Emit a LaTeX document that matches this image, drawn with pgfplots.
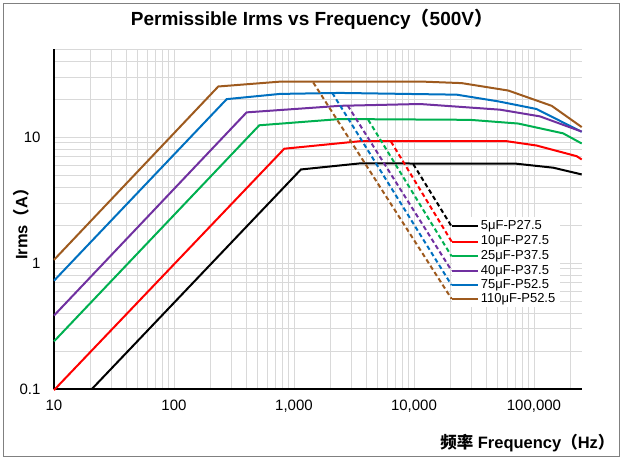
\documentclass[border=0pt]{standalone}
\usepackage{pgfplots}
\pgfplotsset{compat=1.18}
\usepackage{fontspec}
\setmainfont{Liberation Sans}
\newfontfamily\cjk{Noto Sans CJK SC}

\definecolor{cbrown}{HTML}{9E5A1E}
\definecolor{cblue}{HTML}{0070C0}
\definecolor{cpurple}{HTML}{7030A0}
\definecolor{cgreen}{HTML}{00B050}
\definecolor{cred}{HTML}{FF0000}
\definecolor{cgrid}{HTML}{D9D9D9}
\definecolor{cframe}{HTML}{808080}

\begin{document}
\begin{tikzpicture}
  \useasboundingbox (0pt,0pt) rectangle (622pt,459pt);
  \draw[cframe, line width=0.8pt] (3.5pt,3pt) rectangle (619pt,456pt);

  \begin{axis}[
      at={(54pt,70pt)}, anchor=south west,
      scale only axis, width=527.7pt, height=340pt,
      xmode=log, ymode=log,
      xmin=10, xmax=250000, ymin=0.1, ymax=50,
      axis x line*=bottom, axis y line*=left,
      axis line style={black, line width=1.8pt, -},
      xtick={10,100,1000,10000,100000},
      xticklabels={10,100,{1,000},{10,000},{100,000}},
      ytick={0.1,1,10}, yticklabels={0.1,1,10},
      minor xtick={20,30,40,50,60,70,80,90,200,300,400,500,600,700,800,900,
                   2000,3000,4000,5000,6000,7000,8000,9000,
                   20000,30000,40000,50000,60000,70000,80000,90000,200000},
      minor ytick={0.2,0.3,0.4,0.5,0.6,0.7,0.8,0.9,2,3,4,5,6,7,8,9,20,30,40,50},
      grid=both,
      major grid style={cgrid, line width=0.8pt},
      minor grid style={cgrid, line width=0.8pt},
      major tick length=0pt, minor tick length=0pt,
      ticklabel style={font=\fontsize{15}{17}\selectfont},
      /pgf/number format/assume math mode=true,
      xticklabel style={yshift=-7pt},
      yticklabel style={xshift=-10pt},
      clip=false,
    ]
    % solid curves
    \addplot[cbrown, line width=2pt] coordinates {(10,1.06)(234,25.2)(790,27.6)(11200,27.6)(25000,26.8)(61100,23.4)(140500,17.7)(250000,12.0)};
    \addplot[cblue, line width=2pt] coordinates {(10,0.724)(275,20.0)(764,22.0)(2417,22.4)(22700,21.7)(50400,19.2)(105000,16.7)(250000,11.0)};
    \addplot[cpurple, line width=2pt] coordinates {(10,0.383)(403,15.7)(2417,17.7)(11200,18.3)(52100,16.5)(112000,14.6)(250000,11.05)};
    \addplot[cgreen, line width=2pt] coordinates {(10,0.239)(514,12.4)(2417,13.9)(29300,13.7)(74000,12.8)(175000,10.7)(250000,8.89)};
    \addplot[cred, line width=2pt] coordinates {(10,0.098)(830,8.08)(3548,9.27)(59300,9.27)(105000,8.57)(227000,7.05)(250000,6.64)};
    \addplot[black, line width=2pt] coordinates {(20.7,0.1)(1143,5.53)(3548,6.18)(71800,6.14)(145000,5.71)(250000,5.05)};

    % label box
    \fill[white] (axis cs:20600,0.449) rectangle (axis cs:164700,2.31);

    % dashed roll-off lines
    \addplot[cbrown, line width=2pt, dash pattern=on 4.5pt off 3pt] coordinates {(1448,27.1)(20600,0.519)};
    \addplot[cblue, line width=2pt, dash pattern=on 4.5pt off 3pt] coordinates {(2084,22.4)(20600,0.667)};
    \addplot[cpurple, line width=2pt, dash pattern=on 4.5pt off 3pt] coordinates {(2803,17.8)(20600,0.869)};
    \addplot[cgreen, line width=2pt, dash pattern=on 4.5pt off 3pt] coordinates {(4159,13.7)(20600,1.13)};
    \addplot[cred, line width=2pt, dash pattern=on 4.5pt off 3pt] coordinates {(6431,9.21)(20600,1.48)};
    \addplot[black, line width=2pt, dash pattern=on 4.5pt off 3pt] coordinates {(9863,6.10)(20600,1.95)};

    % key stubs with labels
    \addplot[black, line width=2pt] coordinates {(20600,1.95)(34100,1.95)}
      node[pos=1, anchor=west, inner sep=2pt, font=\fontsize{13}{15}\selectfont, text=black] {5μF-P27.5};
    \addplot[cred, line width=2pt] coordinates {(20600,1.48)(34100,1.48)}
      node[pos=1, anchor=west, inner sep=2pt, font=\fontsize{13}{15}\selectfont, text=black] {10μF-P27.5};
    \addplot[cgreen, line width=2pt] coordinates {(20600,1.13)(34100,1.13)}
      node[pos=1, anchor=west, inner sep=2pt, font=\fontsize{13}{15}\selectfont, text=black] {25μF-P37.5};
    \addplot[cpurple, line width=2pt] coordinates {(20600,0.869)(34100,0.869)}
      node[pos=1, anchor=west, inner sep=2pt, font=\fontsize{13}{15}\selectfont, text=black] {40μF-P37.5};
    \addplot[cblue, line width=2pt] coordinates {(20600,0.667)(34100,0.667)}
      node[pos=1, anchor=west, inner sep=2pt, font=\fontsize{13}{15}\selectfont, text=black] {75μF-P52.5};
    \addplot[cbrown, line width=2pt] coordinates {(20600,0.519)(34100,0.519)}
      node[pos=1, anchor=west, inner sep=2pt, font=\fontsize{13}{15}\selectfont, text=black] {110μF-P52.5};
  \end{axis}

  \node[font=\fontsize{19}{22}\selectfont\bfseries] at (312pt,440pt) {Permissible Irms vs Frequency{\cjk （}500V{\cjk ）}};
  \node[font=\fontsize{16.5}{19}\selectfont\bfseries, rotate=90] at (21pt,239pt) {Irms{\cjk （}A{\cjk ）}};
  \node[font=\fontsize{16.5}{19}\selectfont\bfseries, anchor=east] at (618pt,16pt) {{\cjk 频率} Frequency{\cjk （}Hz{\cjk ）}};
\end{tikzpicture}
\end{document}
